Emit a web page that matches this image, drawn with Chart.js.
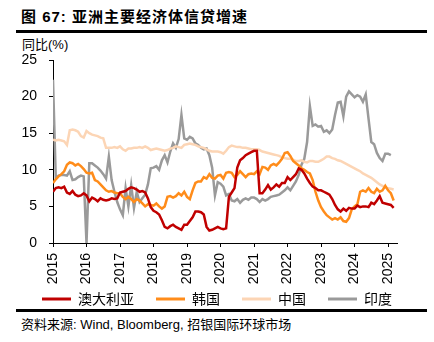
<!DOCTYPE html>
<html><head><meta charset="utf-8">
<script src="https://cdn.jsdelivr.net/npm/chart.js@4.4.1/dist/chart.umd.min.js"></script>
<style>
html,body{margin:0;padding:0;background:#fff;}
#wrap{position:relative;width:434px;height:342px;overflow:hidden;font-family:"Liberation Sans","Noto Sans CJK SC",sans-serif;color:#000;}
#c{position:absolute;left:0;top:0;}
.t{position:absolute;white-space:nowrap;line-height:1;}
.rule{position:absolute;left:16px;width:411px;height:3px;background:#000;}
</style></head><body>
<div id="wrap">
<div class="t" style="left:21px;top:9px;font-size:15px;font-weight:bold;letter-spacing:1px;">图 67: 亚洲主要经济体信贷增速</div>
<div class="rule" style="top:30px;"></div>
<div class="t" style="left:22px;top:38px;font-size:13px;">同比(%)</div>
<div class="rule" style="top:309px;"></div>
<div class="t" style="left:21px;top:318px;font-size:13px;">资料来源: Wind, Bloomberg, 招银国际环球市场</div>
<canvas id="c" width="434" height="342"></canvas>
</div>
<script>
// monthly, Jan 2015 .. Mar 2025
const startYear = 2015;
const yearLabels = ['2015','2016','2017','2018','2019','2020','2021','2022','2023','2024','2025'];
const seriesNames = ['澳大利亚','韩国','中国','印度'];
const australia = [
 7.0,7.5,7.6,7.5,7.7,6.9,6.7,7.1,6.6,6.4,6.5,6.8,
 6.5,5.7,6.2,6.0,5.7,6.1,5.9,5.8,5.9,6.1,6.0,6.1,
 6.9,7.0,7.1,7.4,7.6,7.5,7.3,7.0,7.1,6.9,6.1,4.9,
 4.4,4.2,3.9,3.1,2.2,2.0,2.3,2.5,2.2,2.0,1.8,2.5,
 2.5,3.0,3.5,4.3,4.3,4.2,3.9,2.2,1.7,1.8,2.0,2.2,
 2.0,1.9,2.0,6.3,6.9,7.5,10.3,11.3,11.6,12.0,12.2,12.4,
 12.6,12.6,6.8,6.8,7.3,7.9,7.3,7.6,8.0,7.7,8.2,8.2,
 9.0,8.6,9.0,9.4,10.2,10.0,9.5,8.8,8.2,7.7,7.5,7.2,
 7.2,7.0,6.8,6.6,6.0,5.2,4.6,4.3,4.7,4.4,4.8,4.7,
 4.7,5.1,4.9,5.0,5.0,4.9,5.5,5.3,5.8,6.4,5.5,5.4,
 5.3,5.2,4.8];
const korea = [
 8.2,8.7,9.1,9.4,9.8,10.7,11.0,10.9,10.6,10.8,10.5,10.1,
 9.6,9.5,9.6,8.6,8.4,8.0,7.6,7.2,7.0,7.1,6.9,6.8,
 6.8,6.3,6.0,6.3,6.0,5.6,6.0,5.8,5.4,5.0,5.3,5.2,
 5.1,5.4,5.0,4.7,5.0,6.3,6.4,6.2,6.4,6.8,6.5,7.0,
 6.3,6.0,7.2,8.2,8.4,8.4,9.0,8.8,9.4,8.9,8.8,9.2,
 9.3,8.8,9.6,9.7,9.6,9.0,9.3,9.8,9.4,9.0,9.4,9.5,
 9.4,9.8,9.4,10.4,10.3,10.0,10.6,10.8,10.6,11.0,11.5,12.3,
 12.4,11.9,11.2,10.9,10.6,10.2,10.0,9.7,9.5,8.6,7.0,5.8,
 4.9,4.3,3.8,3.5,3.2,3.4,3.2,3.5,3.0,2.9,3.4,4.6,
 5.0,5.3,7.0,7.2,7.0,7.5,7.0,6.8,7.4,7.0,7.2,7.8,
 7.2,6.8,5.8];
const china = [
 14.1,14.0,14.1,14.0,13.9,13.4,15.4,15.5,15.4,15.2,14.6,14.4,
 15.3,15.0,14.8,14.7,14.6,14.4,14.3,13.0,13.0,13.0,13.1,13.0,
 13.2,12.8,12.6,12.9,12.9,13.0,13.0,13.1,13.0,13.2,13.0,12.7,
 12.8,12.9,12.8,12.7,12.6,12.7,12.9,13.0,13.2,13.1,13.0,13.4,
 13.5,13.6,13.5,13.4,13.2,13.1,13.0,12.8,12.6,12.5,12.5,12.5,
 12.4,12.2,12.6,13.1,13.3,13.2,13.1,13.1,13.0,13.0,12.9,12.8,
 12.8,12.8,12.7,12.5,12.4,12.3,12.2,12.1,12.0,11.9,11.7,11.6,
 11.5,11.5,11.4,11.2,11.2,11.3,11.1,11.0,11.2,11.2,11.1,11.1,
 11.3,11.5,11.8,11.8,11.6,11.5,11.3,11.2,11.0,10.8,10.6,10.4,
 10.2,10.0,9.8,9.5,9.3,9.1,8.9,8.6,8.3,8.0,7.8,7.6,
 7.5,7.4,7.3];
const india = [
 22.3,8.8,9.2,9.3,9.3,9.2,9.8,8.6,8.7,9.0,9.2,9.1,
 0.0,10.9,10.9,10.6,10.3,9.9,9.4,8.8,11.8,8.6,7.0,5.6,
 4.6,3.8,7.5,5.0,7.9,4.8,7.0,5.6,6.1,6.6,8.0,10.2,
 10.3,10.5,10.0,11.3,12.0,11.0,12.5,13.6,13.0,14.2,17.5,14.3,
 14.1,14.5,14.3,13.6,13.4,13.0,12.8,12.9,12.0,10.3,6.5,8.3,
 8.1,7.7,6.5,6.7,5.8,5.7,6.0,5.5,5.9,6.1,5.9,6.2,
 6.2,6.0,5.6,6.0,5.8,6.0,6.3,6.4,6.5,6.6,6.9,7.2,
 7.6,7.2,7.8,8.4,9.3,10.7,11.5,13.8,18.7,16.0,16.2,15.9,
 16.0,15.2,15.4,15.0,15.5,17.5,19.2,19.3,17.3,20.0,20.7,20.3,
 19.9,20.2,20.0,19.3,20.3,17.0,13.8,13.5,12.3,11.6,11.2,12.2,
 12.2,12.0,null];
const colors = ['#C00000','#FF8C1A','#FCD5B5','#9A9A9A'];

const toPoints = arr => arr.map((v,i)=>({x:i, y:v}));
const allSeries = [australia, korea, china, india];
const datasets = allSeries.map((arr,k)=>({
  label: seriesNames[k],
  data: toPoints(arr),
  borderColor: colors[k],
  backgroundColor: colors[k],
  borderWidth: 2.5,
  pointRadius: 0,
  tension: 0,
  spanGaps: false
}));

const fam = '"Liberation Sans","Noto Sans CJK SC",sans-serif';
const fixAxes = {
  id: 'fixAxes',
  afterLayout(chart) {
    const x = chart.scales.x;
    x.bottom = x.top + 48;
  }
};
new Chart(document.getElementById('c'), {
  type: 'line',
  data: { datasets },
  plugins: [fixAxes],
  options: {
    responsive: false,
    animation: false,
    events: [],
    layout: { padding: { left: 20, right: 0, top: 60, bottom: 26 } },
    plugins: {
      tooltip: { enabled: false },
      legend: {
        position: 'bottom',
        align: 'start',
        labels: {
          boxWidth: 29, boxHeight: 3, padding: 22,
          color: '#000',
          font: { size: 14, family: '"Noto Sans CJK SC",sans-serif' },
          generateLabels: chart => Chart.defaults.plugins.legend.labels.generateLabels(chart).map(l => Object.assign(l, {lineWidth: 0}))
        }
      }
    },
    scales: {
      x: {
        type: 'linear',
        min: 0, max: 123.2,
        grid: { drawOnChartArea: false, drawTicks: true, tickLength: 4, color: '#000', lineWidth: 1 },
        border: { display: true, color: '#000', width: 1 },
        ticks: {
          stepSize: 12, includeBounds: false, autoSkip: false,
          minRotation: 90, maxRotation: 90, padding: 6,
          color: '#000', font: { size: 14, family: fam },
          callback: v => (v % 12 === 0 ? yearLabels[v/12] : '')
        },
        afterFit: s => { s.height = 27; s.paddingLeft = 0; s.paddingRight = 37; }
      },
      y: {
        min: 0, max: 25,
        grid: { drawOnChartArea: false, drawTicks: true, tickLength: 4, color: '#000', lineWidth: 1 },
        border: { display: true, color: '#000', width: 1 },
        ticks: { stepSize: 5, padding: 12, color: '#000', font: { size: 14, family: fam } },
        afterFit: s => { s.width = 33; s.paddingTop = 0; s.paddingBottom = 0; }
      }
    }
  }
});
</script>
</body></html>
